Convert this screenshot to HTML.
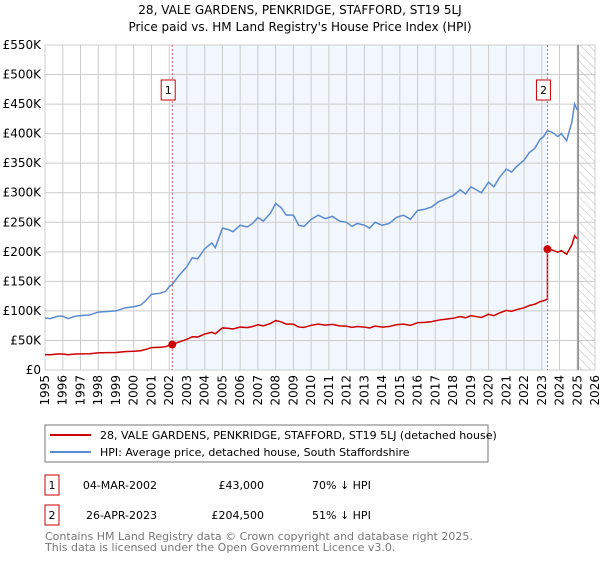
<!DOCTYPE html>
<html><head><meta charset="utf-8">
<style>
body{margin:0;background:#fff;font-family:"DejaVu Sans","Liberation Sans",sans-serif;}
svg text{font-family:"DejaVu Sans","Liberation Sans",sans-serif;}
</style></head>
<body>
<svg id="c" width="600" height="560" viewBox="0 0 600 560">
<defs>
<pattern id="hatch" width="6" height="6" patternUnits="userSpaceOnUse" patternTransform="rotate(-45)">
<line x1="0" y1="0" x2="0" y2="6" stroke="#bbb" stroke-width="1"/>
</pattern>
</defs>
<text x="300" y="14" text-anchor="middle" font-size="12" fill="#000">28, VALE GARDENS, PENKRIDGE, STAFFORD, ST19 5LJ</text>
<text x="300" y="31" text-anchor="middle" font-size="12" fill="#000">Price paid vs. HM Land Registry's House Price Index (HPI)</text>
<g id="plot"></g>
<rect x="45" y="425" width="443" height="37" fill="#fff" stroke="#777"/>
<line x1="50" y1="435" x2="91" y2="435" stroke="#cc0000" stroke-width="2"/>
<text x="100" y="439" font-size="11">28, VALE GARDENS, PENKRIDGE, STAFFORD, ST19 5LJ (detached house)</text>
<line x1="50" y1="452" x2="91" y2="452" stroke="#5b8bd0" stroke-width="2"/>
<text x="100" y="456" font-size="11">HPI: Average price, detached house, South Staffordshire</text>
<g>
<rect x="45" y="475" width="14" height="20" fill="none" stroke="#cc0000"/>
<text x="52" y="489" font-size="11" text-anchor="middle">1</text>
<text x="157" y="489" font-size="11" text-anchor="end">04-MAR-2002</text>
<text x="264" y="489" font-size="11" text-anchor="end">£43,000</text>
<text x="312" y="489" font-size="11">70% ↓ HPI</text>
</g>
<g>
<rect x="45" y="505" width="14" height="20" fill="none" stroke="#cc0000"/>
<text x="52" y="519" font-size="11" text-anchor="middle">2</text>
<text x="157" y="519" font-size="11" text-anchor="end">26-APR-2023</text>
<text x="264" y="519" font-size="11" text-anchor="end">£204,500</text>
<text x="312" y="519" font-size="11">51% ↓ HPI</text>
</g>
<text x="45" y="540" font-size="11" fill="#777">Contains HM Land Registry data © Crown copyright and database right 2025.</text>
<text x="45" y="551" font-size="11" fill="#777">This data is licensed under the Open Government Licence v3.0.</text>
</svg>
<script>
const yTicks=[0,50,100,150,200,250,300,350,400,450,500,550];
const yearTicks=[1995,1996,1997,1998,1999,2000,2001,2002,2003,2004,2005,2006,2007,2008,2009,2010,2011,2012,2013,2014,2015,2016,2017,2018,2019,2020,2021,2022,2023,2024,2025,2026];
const hpiYears=[1995,1995.3,1995.7,1996,1996.3,1996.7,1997,1997.5,1998,1998.5,1999,1999.5,2000,2000.4,2000.7,2001,2001.5,2001.8,2002,2002.17,2002.5,2003,2003.3,2003.6,2004,2004.4,2004.6,2005,2005.3,2005.6,2006,2006.4,2006.7,2007,2007.3,2007.7,2008,2008.3,2008.6,2009,2009.3,2009.6,2010,2010.4,2010.8,2011.2,2011.6,2012,2012.3,2012.6,2013,2013.3,2013.6,2014,2014.4,2014.8,2015.2,2015.6,2016,2016.4,2016.8,2017.2,2017.6,2018,2018.4,2018.7,2019,2019.3,2019.6,2020,2020.3,2020.6,2021,2021.3,2021.6,2022,2022.3,2022.6,2022.9,2023.1,2023.32,2023.6,2023.9,2024.1,2024.4,2024.7,2024.85,2025.0];
const hpiValues=[88,87,91,91,87,91,92,93,98,99,100,105,107,110,118,128,130,133,141,145,158,175,190,188,205,215,207,240,238,234,245,242,248,258,252,265,282,275,262,262,245,243,255,262,256,260,252,250,243,248,245,240,250,245,248,258,262,255,270,272,276,285,290,295,305,298,310,305,300,318,310,325,340,335,345,355,368,375,390,395,405,402,395,400,388,420,450,440];
const saleYears=[2002.17,2023.32];
const salePrices=[43,204.5];
const X0=45,X1=595,Y0=370,Y1=45;
const xs=y=>X0+(y-1995)/(2026-1995)*(X1-X0);
const ys=v=>Y0-v/550*(Y0-Y1);
const NS="http://www.w3.org/2000/svg";
const g=document.getElementById('plot');
function mk(t,a){const e=document.createElementNS(NS,t);for(const k in a)e.setAttribute(k,a[k]);g.appendChild(e);return e;}
let e;
e=mk('rect',{x:xs(saleYears[0]),y:Y1,width:xs(saleYears[1])-xs(saleYears[0]),height:Y0-Y1,fill:'#f2f6fd'});


e=mk('rect',{x:xs(2025.05),y:Y1,width:X1-xs(2025.05),height:Y0-Y1,fill:'url(#hatch)'});


yTicks.forEach(v=>{
 e=mk('line',{x1:X0,x2:X1,y1:ys(v*1),y2:ys(v*1),stroke:'#ccc'});
 
 
 e=mk('text',{x:X0-4,y:ys(v)+4,'text-anchor':'end','font-size':'12'});
 e.textContent=v===0?'£0':'£'+v+'K';
 
 
});
yearTicks.forEach(yr=>{
 e=mk('line',{x1:xs(yr),x2:xs(yr),y1:Y1,y2:Y0,stroke:'#ccc'});
 
 
 e=mk('text',{x:xs(yr)+4,y:Y0+5,'text-anchor':'end','font-size':'12',transform:`rotate(-90 ${xs(yr)+4} ${Y0+5})`});
 e.textContent=yr;
 
 
});
e=mk('rect',{x:X0,y:Y1,width:X1-X0,height:Y0-Y1,fill:'none',stroke:'#ccc'});


e=mk('line',{x1:xs(2025.05),x2:xs(2025.05),y1:Y1,y2:Y0,stroke:'#888','stroke-width':1.5});


// HPI line
e=mk('polyline',{points:hpiYears.map((y,i)=>xs(y)+','+ys(hpiValues[i])).join(' '),fill:'none',stroke:'#5b8bd0','stroke-width':1.5});


// price paid line: indexed from sales
function hpiAt(t){for(let i=1;i<hpiYears.length;i++){if(t<=hpiYears[i]){const f=(t-hpiYears[i-1])/(hpiYears[i]-hpiYears[i-1]);return hpiValues[i-1]+f*(hpiValues[i]-hpiValues[i-1]);}}return hpiValues[hpiValues.length-1];}
const pts=[];
hpiYears.forEach((y,i)=>{
 if(y<saleYears[1]){const r=salePrices[0]/hpiAt(saleYears[0]);pts.push([y,hpiValues[i]*r]);}
});
pts.push([saleYears[1],hpiAt(saleYears[1]-0.01)*salePrices[0]/hpiAt(saleYears[0])]);
hpiYears.forEach((y,i)=>{
 if(y>=saleYears[1]){const r=salePrices[1]/hpiAt(saleYears[1]);pts.push([y,hpiValues[i]*r]);}
});
e=mk('polyline',{points:pts.map(p=>xs(p[0])+','+ys(p[1])).join(' '),fill:'none',stroke:'#cc0000','stroke-width':1.5});


saleYears.forEach((yr,i)=>{
 e=mk('line',{x1:xs(yr),x2:xs(yr),y1:Y1,y2:Y0,stroke:'#e06060','stroke-dasharray':'2,2'});
 
 
 e=mk('circle',{cx:xs(yr),cy:ys(salePrices[i]),r:4,fill:'#cc0000'});
 
 
 e=mk('rect',{x:xs(yr)-11,y:80,width:14,height:20,fill:'#fff',stroke:'#cc0000'});
 
 
 e=mk('text',{x:xs(yr)-4,y:94,'text-anchor':'middle','font-size':'11'});
 e.textContent=String(i+1);
 
 
});
</script>
</body></html>
